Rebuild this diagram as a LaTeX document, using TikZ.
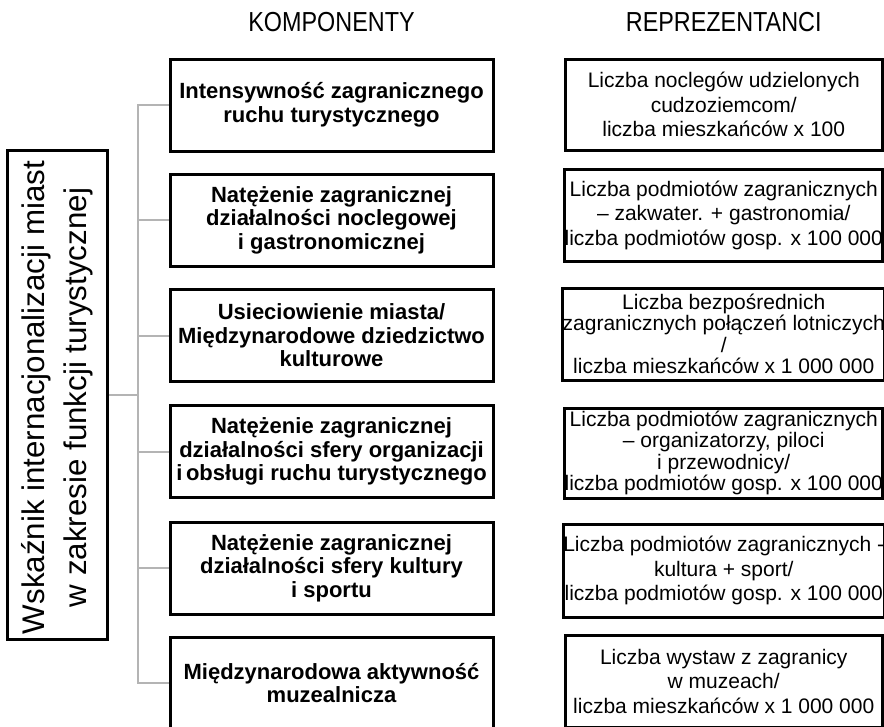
\documentclass[tikz,border=0pt]{standalone}
\usepackage{fontspec}
\setmainfont{Liberation Sans}
\usetikzlibrary{backgrounds}
\definecolor{linegray}{RGB}{180,180,180}
\begin{document}
\begin{tikzpicture}[x=1pt,y=-1pt,
  heading/.style={inner sep=0pt, font=\fontsize{27.5}{29}\selectfont, xscale=0.85},
  rootbox/.style={draw=black, line width=3pt, rectangle, inner sep=0pt,
    minimum width=100pt, minimum height=489pt},
  roottext/.style={rotate=90, inner sep=0pt, align=center,
    font=\fontsize{31.3}{42}\selectfont},
  comp/.style={draw=black, line width=3pt, rectangle, inner sep=0pt,
    minimum width=323pt, minimum height=92pt, align=center,
    font=\bfseries\fontsize{22}{23.5}\selectfont},
  repr/.style={draw=black, line width=3pt, rectangle, inner sep=0pt,
    minimum width=317.5pt, minimum height=92pt, align=center,
    font=\fontsize{21}{24.5}\selectfont},
  repr4/.style={repr, font=\fontsize{21}{21.5}\selectfont},
  conn/.style={draw=linegray, line width=2pt}
]
\clip (0,0) rectangle (884,726);

% column headings
\node[heading] (hcomp) at (331.5,22) {KOMPONENTY};
\node[heading] (hrepr) at (723.75,22) {REPREZENTANCI};

% main indicator
\node[rootbox] (root) at (57,394.5) {};
\node[roottext] (rootlabel) at ([yshift=-3pt]root.center)
  {Wskaźnik internacjonalizacji miast\\w zakresie funkcji turystycznej};

% components
\node[comp] (m1) at (331.5,105) {Intensywność zagranicznego\\ruchu turystycznego};
\node[comp] (m2) at (331.5,220) {Natężenie zagranicznej\\działalności noclegowej\\i gastronomicznej};
\node[comp] (m3) at (331.5,335.5) {Usieciowienie miasta/\\Międzynarodowe dziedzictwo\\kulturowe};
\node[comp] (m4) at (331.5,451.5) {Natężenie zagranicznej\\działalności sfery organizacji\\i\,obsługi ruchu turystycznego};
\node[comp] (m5) at (331.5,568) {Natężenie zagranicznej\\działalności sfery kultury\\i sportu};
\node[comp] (m6) at (331.5,683) {Międzynarodowa aktywność\\muzealnicza};

% representative measures
\node[repr, minimum height=91pt] (r1) at (723.75,104.5) {Liczba noclegów udzielonych\\cudzoziemcom/\\liczba mieszkańców x 100};
\node[repr] (r2) at (723.75,215) {Liczba podmiotów zagranicznych\\– zakwater. + gastronomia/\\liczba podmiotów gosp. x 100 000};
\node[repr4] (r3) at (723.75,334) {Liczba bezpośrednich\\zagranicznych połączeń lotniczych\\/\\liczba mieszkańców x 1 000 000};
\node[repr4, minimum height=90pt] (r4) at (723.75,453) {Liczba podmiotów zagranicznych\\– organizatorzy, piloci\\i przewodnicy/\\liczba podmiotów gosp. x 100 000};
\node[repr, minimum height=93pt] (r5) at (723.75,570.5) {Liczba podmiotów zagranicznych -\\kultura + sport/\\liczba podmiotów gosp. x 100 000};
\node[repr] (r6) at (723.75,681) {Liczba wystaw z zagranicy\\w muzeach/\\liczba mieszkańców x 1 000 000};

% tree connectors
\coordinate (tx) at (138,0);
\begin{pgfonlayer}{background}
  \draw[conn] (m1.west) -- (tx |- m1.west) -- (tx |- m6.west) -- (m6.west);
  \foreach \i in {2,...,5} \draw[conn] (tx |- m\i.west) -- (m\i.west);
  \draw[conn] (root.east) -- (tx |- root.east);
\end{pgfonlayer}
\end{tikzpicture}
\end{document}
